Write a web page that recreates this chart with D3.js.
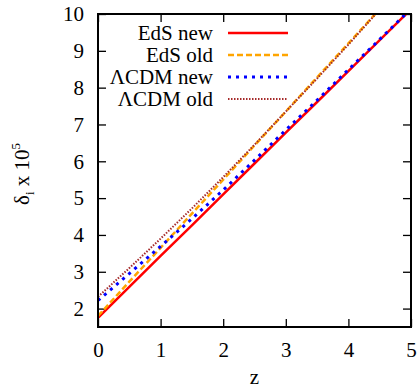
<!DOCTYPE html>
<html>
<head>
<meta charset="utf-8">
<script src="https://cdn.jsdelivr.net/npm/d3@7"></script>
</head>
<body style="margin:0">
<svg id="chart" width="419" height="390"></svg>
<script>
// values
var zValues = [0, 0.5, 1, 1.5, 2, 2.5, 3, 3.5, 4, 4.5, 5];
var edsNew = [1.75, 2.59, 3.43, 4.26, 5.10, 5.94, 6.78, 7.61, 8.45, 9.29, 10.13];
var edsOld = [1.80, 2.73, 3.65, 4.58, 5.50, 6.43, 7.35, 8.28, 9.20, 10.13, 11.05];
var lcdmNew = [2.22, 2.95, 3.69, 4.44, 5.22, 6.03, 6.85, 7.66, 8.49, 9.31, 10.14];
var lcdmOld = [2.32, 3.10, 3.90, 4.72, 5.57, 6.45, 7.35, 8.25, 9.17, 10.12, 11.05];
var xTicks = [0, 1, 2, 3, 4, 5];
var yTicks = [2, 3, 4, 5, 6, 7, 8, 9, 10];

var series = [
    {label: 'EdS new', values: edsNew, color: '#ff0000', width: 2.5, dash: null},
    {label: 'EdS old', values: edsOld, color: '#ffa500', width: 2.5, dash: '6,3'},
    {label: '\u039BCDM new', values: lcdmNew, color: '#0000ff', width: 3, dash: '3,5'},
    {label: '\u039BCDM old', values: lcdmOld, color: '#a52a2a', width: 2, dash: '1.5,1.5'}
];

var margin = {top: 14, right: 8, bottom: 63, left: 98};
var width = 419 - margin.left - margin.right;
var height = 390 - margin.top - margin.bottom;
var fontFam = '"Nimbus Roman", Tinos, "Times New Roman", "Liberation Serif", FreeSerif, serif';
var fontSize = 21;

var svg = d3.select('#chart');
var g = svg.append('g').attr('transform', 'translate(' + margin.left + ',' + margin.top + ')');

var x = d3.scaleLinear().domain([0, 5]).range([0, width]);
var y = d3.scaleLinear().domain([1.5, 10]).range([height, 0]);

g.append('clipPath').attr('id', 'clip')
    .append('rect').attr('width', width).attr('height', height);

// ticks on all four sides, pointing inward
var tickLen = 8;
var fmt = d3.format('d');
g.append('g').attr('class', 'axis')
    .attr('transform', 'translate(0,' + height + ')')
    .call(d3.axisBottom(x).tickValues(xTicks).tickFormat(fmt).tickSizeInner(-tickLen).tickSizeOuter(0).tickPadding(15));
g.append('g').attr('class', 'axis')
    .call(d3.axisTop(x).tickValues(xTicks).tickSizeInner(-tickLen).tickSizeOuter(0).tickFormat(''));
g.append('g').attr('class', 'axis')
    .call(d3.axisLeft(y).tickValues(yTicks).tickFormat(fmt).tickSizeInner(-tickLen).tickSizeOuter(0).tickPadding(14));
g.append('g').attr('class', 'axis')
    .attr('transform', 'translate(' + width + ',0)')
    .call(d3.axisRight(y).tickValues(yTicks).tickSizeInner(-tickLen).tickSizeOuter(0).tickFormat(''));

g.selectAll('.axis').attr('font-family', null).attr('font-size', null);
g.selectAll('.axis .domain').remove();
g.selectAll('.axis line').attr('stroke', '#000').attr('stroke-width', 1.3);

var line = d3.line()
    .x(function(d){ return x(d[0]); })
    .y(function(d){ return y(d[1]); });

var plot = g.append('g').attr('clip-path', 'url(#clip)');
series.forEach(function(s){
    plot.append('path')
        .datum(zValues.map(function(z, i){ return [z, s.values[i]]; }))
        .attr('d', line)
        .attr('fill', 'none')
        .attr('stroke', s.color)
        .attr('stroke-width', s.width)
        .attr('stroke-dasharray', s.dash);
});

// frame
g.append('rect')
    .attr('width', width).attr('height', height)
    .attr('fill', 'none').attr('stroke', '#000').attr('stroke-width', 2);

// legend
var legend = g.append('g');
series.forEach(function(s, i){
    var ly = 19 + i * 22;
    legend.append('text')
        .attr('x', 115).attr('y', ly)
        .attr('dy', '0.35em')
        .attr('text-anchor', 'end')
        .text(s.label);
    legend.append('line')
        .attr('x1', 130).attr('x2', 190)
        .attr('y1', ly).attr('y2', ly)
        .attr('stroke', s.color)
        .attr('stroke-width', s.width)
        .attr('stroke-dasharray', s.dash);
});

// axis titles
svg.append('text')
    .attr('x', margin.left + width / 2).attr('y', 384)
    .attr('text-anchor', 'middle')
    .text('z');

var yl = svg.append('text')
    .attr('transform', 'translate(29,' + (margin.top + 160) + ') rotate(-90)')
    .attr('text-anchor', 'middle');
yl.append('tspan').text('\u03B4');
yl.append('tspan').attr('class', 'small').attr('dy', 5).text('i');
yl.append('tspan').attr('dy', -5).text(' x 10');
yl.append('tspan').attr('class', 'small').attr('dy', -9).text('5');

// same face and size on every text
svg.selectAll('text')
    .attr('fill', '#000')
    .style('font-family', fontFam)
    .style('font-size', fontSize + 'px');
yl.selectAll('tspan.small').style('font-size', '13px');
</script>
</body>
</html>
